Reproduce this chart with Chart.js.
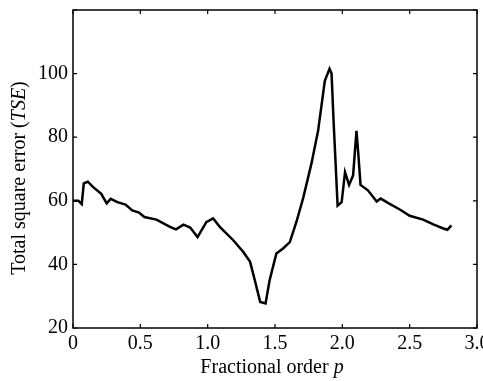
<!DOCTYPE html>
<html>
<head>
<meta charset="utf-8">
<script src="https://cdn.jsdelivr.net/npm/chart.js@4.4.1/dist/chart.umd.min.js"></script>
<style>
    html, body { margin: 0; padding: 0; background: #fff; }
    #wrap { width: 483px; height: 381px; }
</style>
</head>
<body>
<div id="wrap"><canvas id="tseChart" width="483" height="381"></canvas></div>
<script>
// fractional order p and the total square error
const orderValues = [
    0.00, 0.04, 0.065, 0.08, 0.11, 0.15, 0.21, 0.25, 0.28, 0.33,
    0.39, 0.44, 0.49, 0.53, 0.62, 0.72, 0.765, 0.82, 0.87, 0.925,
    0.99, 1.04, 1.09, 1.19, 1.265, 1.315, 1.35, 1.39, 1.43, 1.46,
    1.51, 1.56, 1.61, 1.66, 1.71, 1.77, 1.82, 1.87, 1.905, 1.92,
    1.935, 1.965, 1.995, 2.02, 2.05, 2.08, 2.105, 2.12, 2.135, 2.19,
    2.255, 2.285, 2.345, 2.43, 2.5, 2.6, 2.68, 2.75, 2.78, 2.81
];
const tseValues = [
    60, 60, 59, 65.5, 66, 64.3, 62.2, 59.2, 60.6, 59.6,
    58.8, 57, 56.3, 54.9, 54.1, 51.8, 51, 52.5, 51.6, 48.6,
    53.3, 54.5, 51.8, 47.6, 43.9, 40.8, 35, 28.2, 27.7, 35,
    43.4, 45, 47, 53.5, 61, 71.6, 82, 97.7, 101.5, 100,
    85, 58.5, 59.6, 69, 65, 68, 82, 74, 65, 63.3,
    59.8, 60.7, 59.2, 57.2, 55.3, 54.1, 52.5, 51.3, 50.9, 52.3
];
const xTicks = [0, 0.5, 1.0, 1.5, 2.0, 2.5, 3.0];
const xTickLabels = ['0', '0.5', '1.0', '1.5', '2.0', '2.5', '3.0'];
const yTicks = [20, 40, 60, 80, 100, 120];
const yTickLabels = ['20', '40', '60', '80', '100', ''];

const serif = 'Liberation Serif, Times New Roman, serif';

// box, inward tick marks, tick labels and the mixed-style axis titles
const framePlugin = {
    id: 'frame',
    afterDraw(chart) {
        const ctx = chart.ctx;
        const { left, right, top, bottom } = chart.chartArea;
        const xs = chart.scales.x, ys = chart.scales.y;
        ctx.save();
        ctx.strokeStyle = '#000';
        ctx.lineWidth = 1.5;
        ctx.strokeRect(left, top, right - left, bottom - top);
        ctx.lineWidth = 1.2;
        ctx.beginPath();
        xTicks.forEach(v => {
            const px = xs.getPixelForValue(v);
            ctx.moveTo(px, bottom); ctx.lineTo(px, bottom - 4);
            ctx.moveTo(px, top); ctx.lineTo(px, top + 4);
        });
        yTicks.forEach(v => {
            const py = ys.getPixelForValue(v);
            ctx.moveTo(left, py); ctx.lineTo(left + 4, py);
            ctx.moveTo(right, py); ctx.lineTo(right - 4, py);
        });
        ctx.stroke();

        ctx.fillStyle = '#000';
        ctx.font = '20px ' + serif;
        ctx.textBaseline = 'middle';
        ctx.textAlign = 'center';
        xTicks.forEach((v, i) => ctx.fillText(xTickLabels[i], xs.getPixelForValue(v), bottom + 16));
        ctx.textAlign = 'right';
        yTicks.forEach((v, i) => ctx.fillText(yTickLabels[i], left - 5, ys.getPixelForValue(v)));

        drawMixed(ctx, [['Fractional order ', false], ['p', true]], 272, 368);

        ctx.translate(20, 178);
        ctx.rotate(-Math.PI / 2);
        drawMixed(ctx, [['Total square error (', false], ['TSE', true], [')', false]], 0, 0);
        ctx.restore();
    }
};

function drawMixed(ctx, parts, cx, cy) {
    const fontFor = italic => (italic ? 'italic ' : '') + '20px ' + serif;
    let total = 0;
    parts.forEach(([text, italic]) => { ctx.font = fontFor(italic); total += ctx.measureText(text).width; });
    let x = cx - total / 2;
    ctx.textAlign = 'left';
    parts.forEach(([text, italic]) => {
        ctx.font = fontFor(italic);
        ctx.fillText(text, x, cy);
        x += ctx.measureText(text).width;
    });
}

new Chart(document.getElementById('tseChart'), {
    type: 'line',
    data: {
        datasets: [{
            data: orderValues.map((p, i) => ({ x: p, y: tseValues[i] })),
            borderColor: '#000',
            borderWidth: 2.5,
            pointRadius: 0,
            tension: 0,
            fill: false,
        }],
    },
    options: {
        responsive: false,
        animation: false,
        layout: { padding: { top: 10, right: 6, left: 0, bottom: 0 } },
        plugins: { legend: { display: false }, tooltip: { enabled: false } },
        scales: {
            x: {
                type: 'linear',
                min: 0,
                max: 3,
                afterFit: scale => { scale.height = 53; },
                grid: { display: false, drawTicks: false },
                border: { display: false },
                ticks: { display: false },
            },
            y: {
                min: 20,
                max: 120,
                afterFit: scale => { scale.width = 73; },
                grid: { display: false, drawTicks: false },
                border: { display: false },
                ticks: { display: false },
            },
        },
    },
    plugins: [framePlugin],
});
</script>
</body>
</html>
